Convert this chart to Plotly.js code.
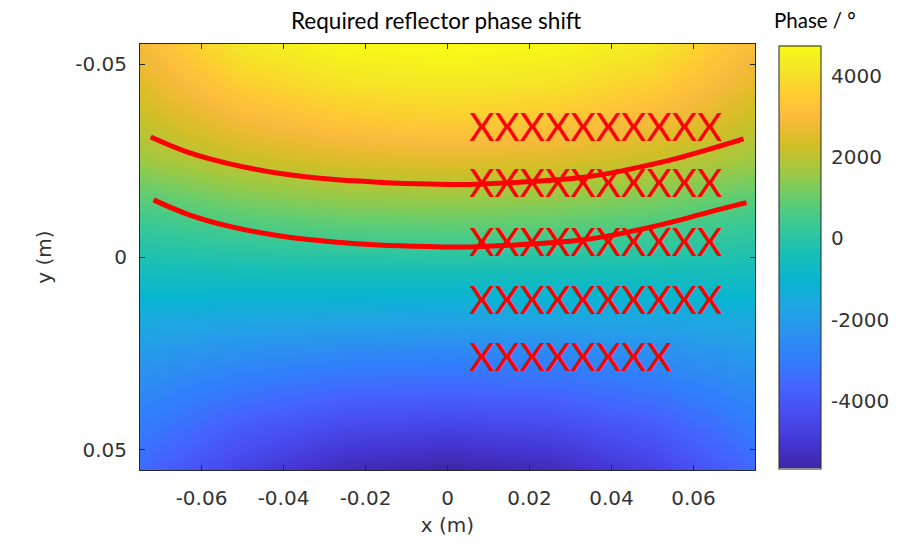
<!DOCTYPE html>
<html>
<head>
<meta charset="utf-8">
<script src="https://cdn.plot.ly/plotly-3.0.1.min.js"></script>
<style>html,body{margin:0;padding:0;background:#fff;}#chart{width:917px;height:550px;}</style>
</head>
<body>
<div id="chart"></div>
<script>
// ---- data ----
const gridX = [-0.075, -0.05, -0.025, 0, 0.025, 0.05, 0.075];
const gridY = [-0.055, -0.045, -0.035, -0.025, -0.015, -0.005, 0.005, 0.015, 0.025, 0.035, 0.045, 0.055];
const phase = [
  [2850, 4250, 4650, 4740, 4650, 4250, 2950],
  [2500, 3600, 4100, 4250, 4100, 3600, 2580],
  [2100, 2850, 3300, 3500, 3300, 2850, 2140],
  [1590, 2110, 2420, 2520, 2420, 2110, 1610],
  [760, 1210, 1480, 1570, 1480, 1210, 760],
  [50, 320, 490, 540, 490, 320, 50],
  [-585, -560, -550, -545, -550, -560, -585],
  [-1420, -1520, -1580, -1595, -1580, -1520, -1420],
  [-2060, -2410, -2630, -2695, -2630, -2410, -2060],
  [-2600, -3210, -3580, -3700, -3580, -3210, -2600],
  [-3060, -3990, -4550, -4740, -4550, -3990, -3060],
  [-3500, -4690, -5410, -5650, -5410, -4690, -3500]
];
const phaseMin = -5650, phaseMax = 4740;

const upperX = [-0.0724, -0.0632, -0.0534, -0.0412, -0.0290, -0.0168, -0.0046, 0.0051, 0.0166, 0.0327, 0.0410, 0.0490, 0.0571, 0.0654, 0.0722];
const upperY = [-0.0311, -0.0271, -0.0242, -0.0217, -0.0202, -0.0194, -0.0189, -0.0188, -0.0193, -0.0206, -0.0220, -0.0238, -0.0259, -0.0284, -0.0306];
const lowerX = [-0.0717, -0.0632, -0.0534, -0.0412, -0.0290, -0.0168, -0.0046, 0.0051, 0.0166, 0.0327, 0.0410, 0.0490, 0.0571, 0.0654, 0.0729];
const lowerY = [-0.0148, -0.0110, -0.0080, -0.0055, -0.0040, -0.0031, -0.0027, -0.0026, -0.0031, -0.0044, -0.0058, -0.0076, -0.0097, -0.0121, -0.0141];

const markRows = ['XXXXXXXXXX', 'XXXXXXXXXX', 'XXXXXXXXXX', 'XXXXXXXXXX', 'XXXXXXXX'];
const markRowY = [-0.0325, -0.0180, -0.0027, 0.0123, 0.0271];
const markRowX = [0.0053, 0.0053, 0.0053, 0.0053, 0.0053];

const xTickVals = [-0.06, -0.04, -0.02, 0, 0.02, 0.04, 0.06];
const xTickText = ['-0.06', '-0.04', '-0.02', '0', '0.02', '0.04', '0.06'];
const yTickVals = [-0.05, 0, 0.05];
const yTickText = ['-0.05', '0', '0.05'];
const cbTickVals = [4000, 2000, 0, -2000, -4000];
const cbTickText = ['4000', '2000', '0', '-2000', '-4000'];

const chartTitle = 'Required reflector phase shift';
const cbTitle = 'Phase / °';
const xTitle = 'x (m)';
const yTitle = 'y (m)';

// ---- parula colour map ----
const parula = [
  [0.000, 'rgb(62,38,168)'],
  [0.0635, 'rgb(69,55,213)'],
  [0.127, 'rgb(72,77,240)'],
  [0.190, 'rgb(69,99,253)'],
  [0.254, 'rgb(50,124,252)'],
  [0.317, 'rgb(43,145,239)'],
  [0.381, 'rgb(32,165,227)'],
  [0.444, 'rgb(8,181,208)'],
  [0.508, 'rgb(25,191,182)'],
  [0.571, 'rgb(55,200,151)'],
  [0.635, 'rgb(100,205,111)'],
  [0.698, 'rgb(157,201,67)'],
  [0.762, 'rgb(209,191,39)'],
  [0.794, 'rgb(230,187,45)'],
  [0.825, 'rgb(248,186,61)'],
  [0.857, 'rgb(254,195,56)'],
  [0.889, 'rgb(252,207,48)'],
  [0.952, 'rgb(245,233,36)'],
  [1.000, 'rgb(249,251,21)']
];

const ink = '#262626';
const labelInk = '#333333';
const tickFont = {family: 'DejaVu Sans', size: 20, color: labelInk};

const traces = [
  {
    type: 'heatmap', x: gridX, y: gridY, z: phase,
    zmin: phaseMin, zmax: phaseMax, zsmooth: 'best',
    colorscale: parula, hoverinfo: 'skip',
    colorbar: {
      x: 1.039, xanchor: 'left', xref: 'paper',
      y: 0.5, yanchor: 'middle',
      thickness: 42, thicknessmode: 'pixels',
      len: 423, lenmode: 'pixels',
      xpad: 0, ypad: 0,
      outlinewidth: 1, outlinecolor: ink,
      ticks: 'outside', ticklen: 6, tickcolor: 'rgba(0,0,0,0)',
      tickvals: cbTickVals, ticktext: cbTickText,
      tickfont: tickFont
    }
  },
  {type: 'scatter', mode: 'lines', x: upperX, y: upperY,
   line: {color: '#ff0000', width: 5, shape: 'spline', smoothing: 1}, showlegend: false, hoverinfo: 'skip'},
  {type: 'scatter', mode: 'lines', x: lowerX, y: lowerY,
   line: {color: '#ff0000', width: 5, shape: 'spline', smoothing: 1}, showlegend: false, hoverinfo: 'skip'},
  {type: 'scatter', mode: 'text', x: markRowX, y: markRowY, text: markRows,
   textposition: 'middle right', textfont: {family: 'Lato', size: 39, color: '#ff0000'},
   showlegend: false, hoverinfo: 'skip', cliponaxis: false}
];

const axisCommon = {
  showgrid: false, zeroline: false,
  showline: true, linecolor: ink, linewidth: 1, mirror: 'ticks',
  ticks: 'inside', ticklen: 5, tickcolor: ink, tickwidth: 1,
  tickfont: tickFont
};

const layout = {
  width: 917, height: 550,
  margin: {l: 140, r: 162, t: 44, b: 80},
  paper_bgcolor: '#ffffff', plot_bgcolor: '#ffffff',
  showlegend: false,
  xaxis: Object.assign({}, axisCommon, {
    range: [-0.075, 0.075], tickmode: 'array', tickvals: xTickVals, ticktext: xTickText,
    ticklabelstandoff: 10,
    title: {text: xTitle, font: {family: 'DejaVu Sans', size: 20, color: labelInk}, standoff: 8}
  }),
  yaxis: Object.assign({}, axisCommon, {
    range: [0.0552, -0.0552], tickmode: 'array', tickvals: yTickVals, ticktext: yTickText,
    ticklabelstandoff: 8,
    title: {text: yTitle, font: {family: 'DejaVu Sans', size: 20, color: labelInk}, standoff: 18}
  }),
  annotations: [
    {text: chartTitle, xref: 'paper', yref: 'paper', x: 0.482, y: 1.0563,
     xanchor: 'center', yanchor: 'middle', showarrow: false,
     font: {family: 'Lato', size: 22.5, color: '#000000'}},
    {text: cbTitle, xref: 'paper', yref: 'paper', x: 1.0976, y: 1.0563,
     xanchor: 'center', yanchor: 'middle', showarrow: false,
     font: {family: 'Lato', size: 20.5, color: '#000000'}}
  ]
};

Plotly.newPlot('chart', traces, layout, {displayModeBar: false, staticPlot: true});
</script>
</body>
</html>
